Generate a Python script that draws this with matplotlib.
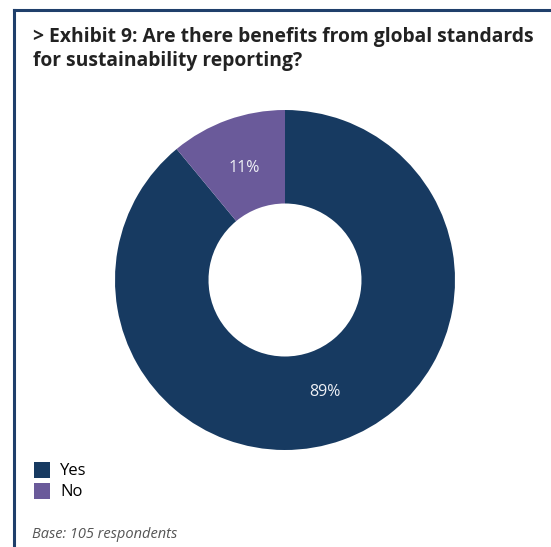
import matplotlib.pyplot as plt
from matplotlib.lines import Line2D
from matplotlib.patches import Patch

plt.rcParams['font.family'] = ['Open Sans', 'DejaVu Sans']

labels = ['Yes', 'No']
values = [89, 11]
colors = ['#173a61', '#6a5a9a']

fig = plt.figure(figsize=(5.51, 5.47), dpi=100)

# frame lines on top and left
fig.add_artist(Line2D([14/551, 1], [1 - 10/547, 1 - 10/547], color='#1f3f6b', lw=2.2))
fig.add_artist(Line2D([14/551, 14/551], [0, 1 - 10/547], color='#1f3f6b', lw=2.2))

fig.text(33/551, 1 - 49/547, '> Exhibit 9: Are there benefits from global standards\nfor sustainability reporting?',
         fontsize=13.9, fontweight='bold', color='#222222', va='center', ha='left', linespacing=1.25)

ax = fig.add_axes([115/551, 1 - 450/547, 340/551, 340/547])
wedges, texts, autotexts = ax.pie(values, colors=colors, startangle=90, counterclock=False,
                                  wedgeprops=dict(width=0.55, edgecolor='none'),
                                  autopct='%d%%', pctdistance=0.70,
                                  textprops=dict(color='#eef0f5', fontsize=11.5))
ax.set_xlim(-1, 1)
ax.set_ylim(-1, 1)
ax.set_aspect('equal')

handles = [Patch(facecolor=c, edgecolor='none') for c in colors]
fig.legend(handles, labels, loc='upper left', bbox_to_anchor=(27/551, 1 - 455/547),
           frameon=False, fontsize=12, handlelength=1.0, handleheight=1.1,
           handletextpad=0.6, labelspacing=0.2, borderaxespad=0)

fig.text(32/551, 1 - 535/547, 'Base: 105 respondents', fontsize=10.5, style='italic',
         color='#555555', va='center', ha='left')

fig.savefig('out.png', dpi=100)
